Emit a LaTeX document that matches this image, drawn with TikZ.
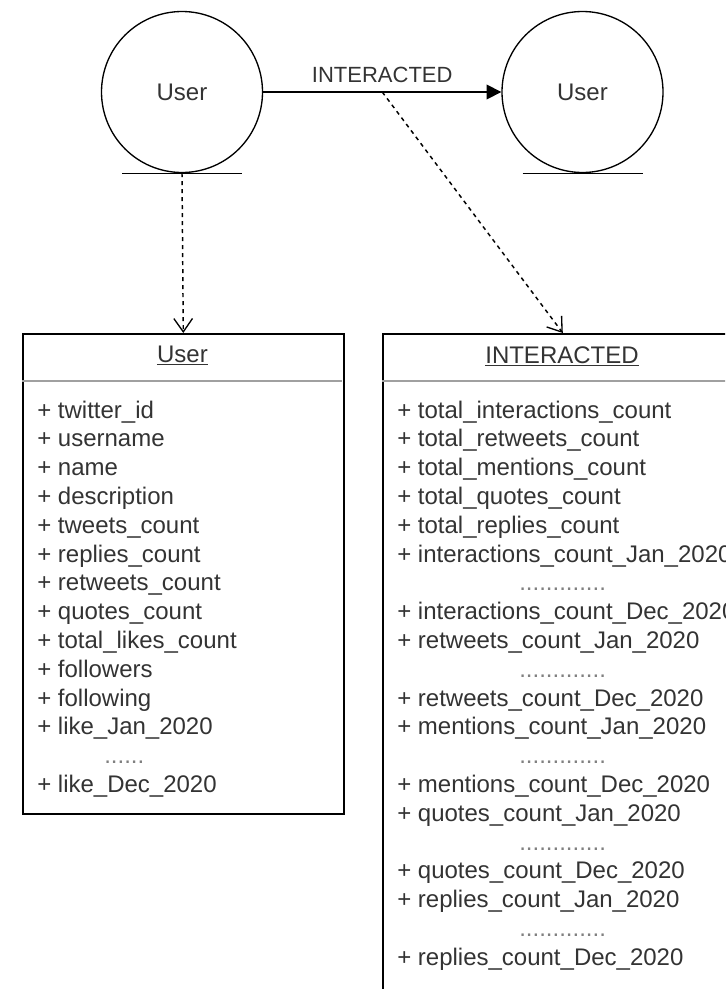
\documentclass[tikz,border=0pt]{standalone}
\usepackage{fontspec}
\setmainfont{Liberation Sans}
\usetikzlibrary{arrows.meta,calc}
\definecolor{ink}{HTML}{333333}
\definecolor{rulegray}{HTML}{A0A0A0}
\newcommand{\txt}{\fontsize{18}{21.6}\selectfont}
\tikzset{
  entity/.style={circle,draw,line width=1pt,minimum size=120.75pt,inner sep=0pt,font=\txt,text=ink},
  groundline/.style={line width=1pt},
  classbox/.style={draw,line width=1.2pt,rectangle,anchor=north west,inner sep=0pt},
  headtext/.style={anchor=base,inner sep=0pt,font=\txt,text=ink},
  attr/.style={anchor=base west,inner sep=0pt,font=\txt,text=ink},
  ellipsis/.style={anchor=base west,inner sep=0pt,font=\txt,text=gray},
  relation/.style={line width=1pt,-{Triangle[length=11pt,width=11pt]}},
  depends/.style={line width=1.1pt,dash pattern=on 3pt off 3pt,
    -{Straight Barb[length=10pt,width=14pt,line width=1pt]}},
}
\begin{document}
\begin{tikzpicture}[x=0.75pt,y=-0.75pt]
\useasboundingbox (0,0) rectangle (725,989);
\clip (0,0) rectangle (725,989);

% entity circles with their ground lines
\node[entity] (u1) at (182,92) {User};
\node[entity] (u2) at (582.5,92) {User};
\draw[groundline] ($(u1.south)+(-60,0)$) -- ($(u1.south)+(60,0)$);
\draw[groundline] ($(u2.south)+(-60,0)$) -- ($(u2.south)+(60,0)$);

% relationship arrow
\draw[relation] (u1) -- coordinate[pos=0.5] (mid) (u2);
\node[headtext,font=\fontsize{16.5}{19.8}\selectfont] (rlabel) at ($(mid)+(0,-10)$) {INTERACTED};

% class boxes
\node[classbox,minimum width=240.75pt,minimum height=360pt] (userbox) at (22,333) {};
\node[classbox,minimum width=270pt,minimum height=600pt] (intbox) at (382,333) {};
\draw[rulegray,line width=1pt] (22,381) -- (342,381);
\draw[rulegray,line width=1pt] (382,381) -- (742,381);

% headers
\node[headtext] (uhead) at (182.5,362) {User};
\node[headtext] (ihead) at (562,363) {INTERACTED};
\draw[ink,line width=1.1pt] ([yshift=-2pt]uhead.base west) -- ([yshift=-2pt]uhead.base east);
\draw[ink,line width=1.1pt] ([yshift=-2pt]ihead.base west) -- ([yshift=-2pt]ihead.base east);

% dependency arrows
\draw[depends] (u1.south) -- (userbox.north);
\draw[depends] (mid) -- (intbox.north);

% User attributes
\foreach \t [count=\i from 0] in {twitter\_id,username,name,description,tweets\_count,
  replies\_count,retweets\_count,quotes\_count,total\_likes\_count,followers,following,
  like\_Jan\_2020}
  \node[attr] (ua\i) at (37,{418+28.8*\i}) {+ \t};
\node[ellipsis] (ugap) at (104,{418+28.8*12}) {......};
\node[attr] (ualast) at (37,{418+28.8*13}) {+ like\_Dec\_2020};

% INTERACTED attributes
\foreach \t [count=\i from 0] in {total\_interactions\_count,total\_retweets\_count,
  total\_mentions\_count,total\_quotes\_count,total\_replies\_count}
  \node[attr] (ia\i) at (397,{418+28.8*\i}) {+ \t};
\foreach \k [count=\j from 0] in {interactions,retweets,mentions,quotes,replies}{
  \node[attr] (ij\j) at (397,{418+28.8*(5+3*\j)}) {+ \k\_count\_Jan\_2020};
  \node[ellipsis] (ig\j) at (519,{418+28.8*(6+3*\j)}) {.............};
  \node[attr] (id\j) at (397,{418+28.8*(7+3*\j)}) {+ \k\_count\_Dec\_2020};
}
\end{tikzpicture}
\end{document}
